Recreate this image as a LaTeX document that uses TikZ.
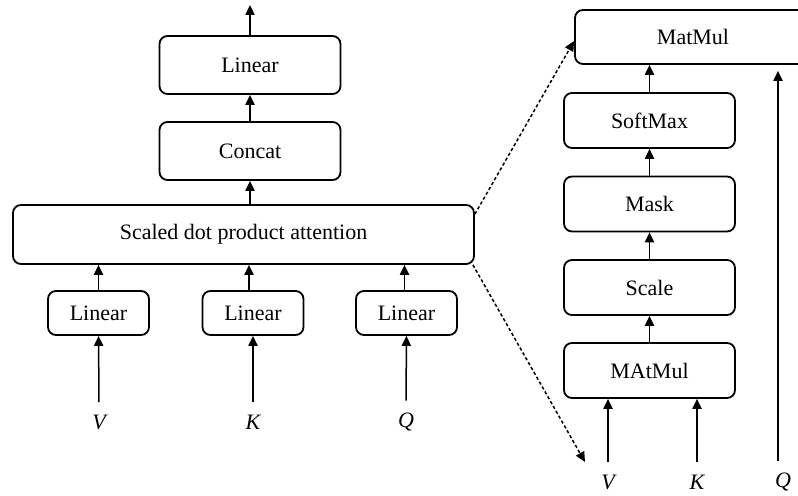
\documentclass[tikz,border=0pt]{standalone}
\usepackage{fontspec}
\setmainfont{Liberation Serif}
\usetikzlibrary{arrows.meta}

\tikzset{
  blk/.style={draw, line width=0.9pt, rounded corners=4pt, inner sep=0pt},
  arr/.style={line width=0.75pt, -{Triangle[length=5pt,width=4.6pt]}},
  dasharr/.style={line width=0.75pt, dash pattern=on 1.6pt off 1.2pt, -{Triangle[length=5pt,width=4.6pt]}},
  inp/.style={font=\fontsize{11}{13}\selectfont\itshape, inner sep=1pt}
}

\begin{document}
\begin{tikzpicture}[x=0.5pt,y=0.5pt,font=\fontsize{11}{13}\selectfont]
\useasboundingbox (0,0) rectangle (798,496);
% multi-head side
\node[blk, minimum width=90.5pt, minimum height=29pt] (lin4) at (250,431) {Linear};
\node[blk, minimum width=90.5pt, minimum height=29pt] (concat) at (250,345) {Concat};
\node[blk, minimum width=230.5pt, minimum height=29.5pt] (sdpa) at (243.5,261.5) {Scaled dot product attention};
\node[blk, minimum width=50.5pt, minimum height=22pt] (lin1) at (98.5,183) {Linear};
\node[blk, minimum width=50.5pt, minimum height=22pt] (lin2) at (253,183) {Linear};
\node[blk, minimum width=50.5pt, minimum height=22pt] (lin3) at (406.5,183) {Linear};
\node[inp] (v1) at (99,74) {V};
\node[inp] (k1) at (253,74) {K};
\node[inp] (q1) at (406,74) {Q};
\coordinate (out) at (250,491);

\draw[arr] (lin4) -- (out);
\draw[arr] (concat) -- (lin4);
\draw[arr] (concat.south |- sdpa.north) -- (concat.south);
\draw[arr] (lin1) -- (lin1.north |- sdpa.south);
\draw[arr] ([xshift=-2pt]lin2.north) -- ([xshift=-2pt]lin2.north |- sdpa.south);
\draw[arr] ([xshift=-1pt]lin3.north) -- ([xshift=-1pt]lin3.north |- sdpa.south);
\draw[arr, shorten <=5pt] (v1) -- (lin1);
\draw[arr, shorten <=5pt] (k1) -- (lin2);
\draw[arr, shorten <=5pt] (q1) -- (lin3);

% scaled dot product side
\node[blk, minimum width=118pt, minimum height=27pt] (mm2) at (693,459) {MatMul};
\node[blk, minimum width=85.5pt, minimum height=27.5pt] (soft) at (649.5,375.5) {SoftMax};
\node[blk, minimum width=85.5pt, minimum height=27.5pt] (mask) at (649.5,292) {Mask};
\node[blk, minimum width=85.5pt, minimum height=27.5pt] (scale) at (649.5,208.5) {Scale};
\node[blk, minimum width=85.5pt, minimum height=27.5pt] (mm1) at (649.5,125.5) {MAtMul};
\node[inp] (v2) at (608,14) {V};
\node[inp] (k2) at (697,14) {K};
\node[inp] (q2) at (783,14) {Q};
\coordinate (dend) at (585,34);

\draw[arr] (soft.north) -- (soft.north |- mm2.south);
\draw[arr] (mask) -- (soft);
\draw[arr] (scale) -- (mask);
\draw[arr] (mm1) -- (scale);
\draw[arr, shorten <=5pt] (v2.north) -- (v2.north |- mm1.south);
\draw[arr, shorten <=5pt] (k2.north) -- (k2.north |- mm1.south);
\draw[arr, shorten <=5pt, shorten >=3pt] ([xshift=-2.5pt]q2.north) -- ([xshift=-2.5pt]q2.north |- mm2.south);

\draw[dasharr] ([yshift=-5pt]sdpa.north east) -- ([yshift=-2pt]mm2.west);
\draw[dasharr] ([xshift=-1pt]sdpa.south east) -- (dend);
\end{tikzpicture}
\end{document}
